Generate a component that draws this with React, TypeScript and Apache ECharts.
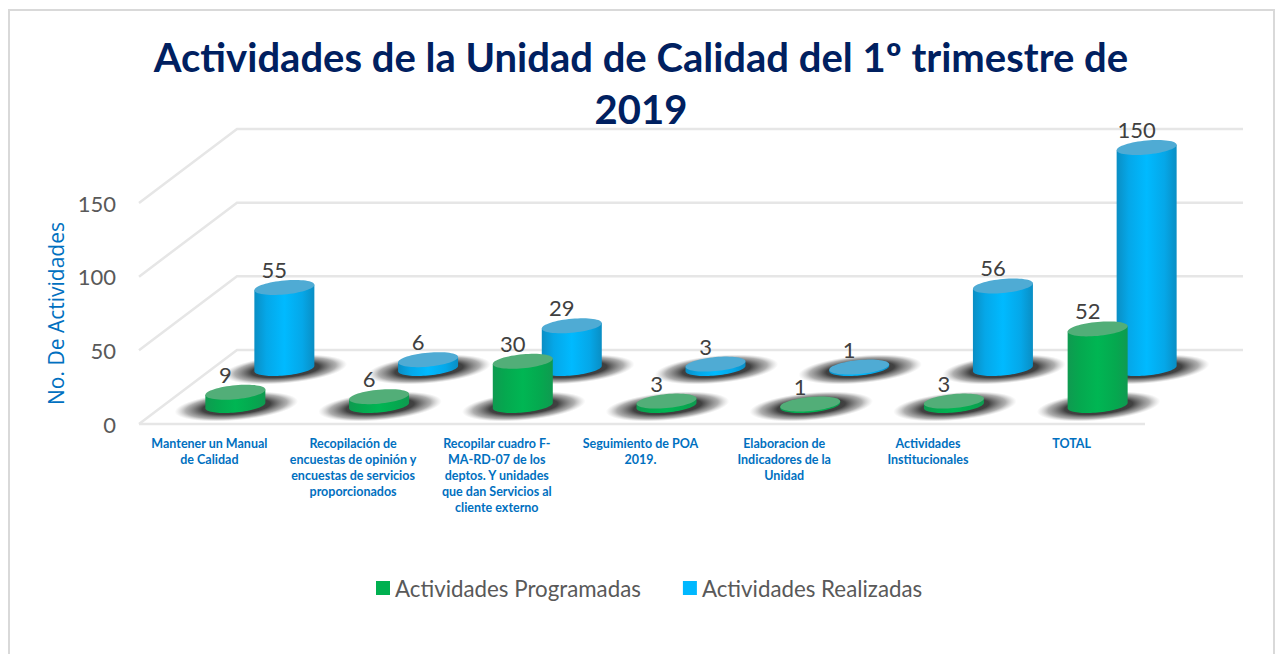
import React, { useEffect, useRef } from "react";
import * as echarts from "echarts";

const categories = [
  "Mantener un Manual\nde Calidad",
  "Recopilación de\nencuestas de opinión y\nencuestas de servicios\nproporcionados",
  "Recopilar cuadro F-\nMA-RD-07 de los\ndeptos. Y unidades\nque dan Servicios al\ncliente externo",
  "Seguimiento de POA\n2019.",
  "Elaboracion de\nIndicadores de la\nUnidad",
  "Actividades\nInstitucionales",
  "TOTAL",
];
const programadas = [9, 6, 30, 3, 1, 3, 52];
const realizadas = [55, 6, 29, 3, 1, 56, 150];
const yTicks = [0, 50, 100, 150];
const titleText = "Actividades de la Unidad de Calidad del 1º trimestre de\n2019";
const yName = "No. De Actividades";

const FONT = "Lato";
const DEPTH_X = 98;
const DEPTH_Y = 74;
const RADIUS = 30;
const MINOR = 7;
const SKEW = 0.09;

const rim = (cx: number, cy: number, from: number, to: number, n = 40) => {
  const pts: number[][] = [];
  for (let i = 0; i <= n; i++) {
    const t = from + ((to - from) * i) / n;
    const dx = RADIUS * Math.cos(t);
    pts.push([cx + dx, cy + MINOR * Math.sin(t) - SKEW * dx]);
  }
  return pts;
};

const cylinderSeries = (
  name: string,
  values: number[],
  depth: number,
  legendColor: string,
  edge: string,
  side: string,
  mid: string,
  cap: string
) => ({
  type: "custom",
  name,
  coordinateSystem: "cartesian2d",
  clip: false,
  silent: true,
  itemStyle: { color: legendColor },
  encode: { x: 0, y: 1 },
  data: values.map((v, i) => [i, v]),
  renderItem: (_p: any, api: any) => {
    const base = api.coord([api.value(0), 0]);
    const top = api.coord([api.value(0), api.value(1)]);
    const cx = base[0] + DEPTH_X * depth;
    const by = base[1] - DEPTH_Y * depth;
    const ty = top[1] - DEPTH_Y * depth;
    const body = [
      [cx - RADIUS, ty + SKEW * RADIUS],
      [cx + RADIUS, ty - SKEW * RADIUS],
      ...rim(cx, by, 0, Math.PI),
    ];
    return {
      type: "group",
      children: [
        {
          type: "ellipse",
          x: cx + 1,
          y: by + 1,
          rotation: 0.09,
          shape: { cx: 0, cy: 0, rx: 62, ry: 14 },
          style: {
            fill: new echarts.graphic.RadialGradient(0.5, 0.5, 0.5, [
              { offset: 0, color: "rgba(45,45,45,1)" },
              { offset: 0.55, color: "rgba(55,55,55,0.95)" },
              { offset: 0.82, color: "rgba(110,110,110,0.55)" },
              { offset: 1, color: "rgba(170,170,170,0)" },
            ]),
          },
        },
        {
          type: "polygon",
          shape: { points: body },
          style: {
            fill: new echarts.graphic.LinearGradient(0, 0, 1, 0, [
              { offset: 0, color: edge },
              { offset: 0.2, color: side },
              { offset: 0.5, color: mid },
              { offset: 0.8, color: side },
              { offset: 1, color: edge },
            ]),
          },
        },
        {
          type: "polygon",
          shape: { points: rim(cx, ty, 0, Math.PI * 2, 64) },
          style: { fill: cap },
        },
        {
          type: "text",
          x: cx - 10,
          y: ty - 18,
          style: {
            text: String(api.value(1)),
            fill: "#404040",
            font: `22px ${FONT}`,
            align: "center",
            verticalAlign: "middle",
          },
        },
      ],
    };
  },
});

export default function App() {
  const ref = useRef<HTMLDivElement>(null);
  useEffect(() => {
    document.body.style.margin = "0";
    const chart = echarts.init(ref.current!, undefined, { renderer: "svg" });
    chart.setOption({
      animation: false,
      backgroundColor: "#ffffff",
      title: {
        text: titleText,
        left: 636,
        top: 26,
        textAlign: "center",
        textStyle: {
          fontFamily: FONT,
          fontWeight: "bold",
          fontSize: 40,
          lineHeight: 52,
          color: "#002060",
        },
      },
      legend: {
        left: 371,
        top: 572,
        icon: "rect",
        itemWidth: 14,
        itemHeight: 14,
        itemGap: 42,
        data: ["Actividades Programadas", "Actividades Realizadas"],
        textStyle: { fontFamily: FONT, fontSize: 22.3, color: "#595959" },
      },
      graphic: [
        {
          type: "rect",
          silent: true,
          z: -1,
          shape: { x: 9, y: 10, width: 1265, height: 700 },
          style: { fill: "none", stroke: "#d9d9d9", lineWidth: 2 },
        },
      ],
      grid: { left: 139, right: 130, top: 203, bottom: 230 },
      xAxis: {
        type: "category",
        data: categories,
        axisLine: { show: false },
        axisTick: { show: false },
        axisLabel: {
          interval: 0,
          margin: 11,
          padding: [0, 3, 0, 0],
          fontFamily: FONT,
          fontWeight: "bold",
          fontSize: 12.5,
          lineHeight: 16,
          color: "#0070c0",
        },
      },
      yAxis: {
        type: "value",
        min: 0,
        max: 150,
        interval: 50,
        name: yName,
        nameLocation: "middle",
        nameGap: 72,
        nameTextStyle: { fontFamily: "Open Sans", fontSize: 21, color: "#0070c0" },
        axisLine: { show: false },
        axisTick: { show: false },
        splitLine: { show: false },
        axisLabel: { margin: 23, fontFamily: FONT, fontSize: 22, color: "#595959" },
      },
      series: [
        {
          type: "custom",
          coordinateSystem: "cartesian2d",
          clip: false,
          silent: true,
          encode: { y: 0 },
          data: yTicks.map((t) => [t]),
          renderItem: (p: any, api: any) => {
            const v = api.value(0);
            const y = api.coord([0, v])[1];
            const left = p.coordSys.x;
            const right = left + p.coordSys.width;
            const children: any[] = [
              {
                type: "polyline",
                shape: {
                  points: [
                    [left, y],
                    [left + DEPTH_X, y - DEPTH_Y],
                    [right + DEPTH_X, y - DEPTH_Y],
                  ],
                },
                style: { fill: "none", stroke: "#e6e6e6", lineWidth: 2.5 },
              },
            ];
            if (v === 0) {
              children.push({
                type: "line",
                shape: { x1: left, y1: y, x2: right, y2: y },
                style: { stroke: "#e6e6e6", lineWidth: 2.5 },
              });
            }
            return { type: "group", children };
          },
        },
        cylinderSeries("Actividades Realizadas", realizadas, 0.75, "#00b8ff", "#0a8ec4", "#05a7e8", "#00baff", "#4fabd4"),
        cylinderSeries("Actividades Programadas", programadas, 0.25, "#00b050", "#0f9a50", "#05a84f", "#00b653", "#52ae78"),
      ],
    });
    return () => chart.dispose();
  }, []);
  return <div ref={ref} style={{ position: "fixed", left: 0, top: 0, width: 1275, height: 654 }} />;
}
